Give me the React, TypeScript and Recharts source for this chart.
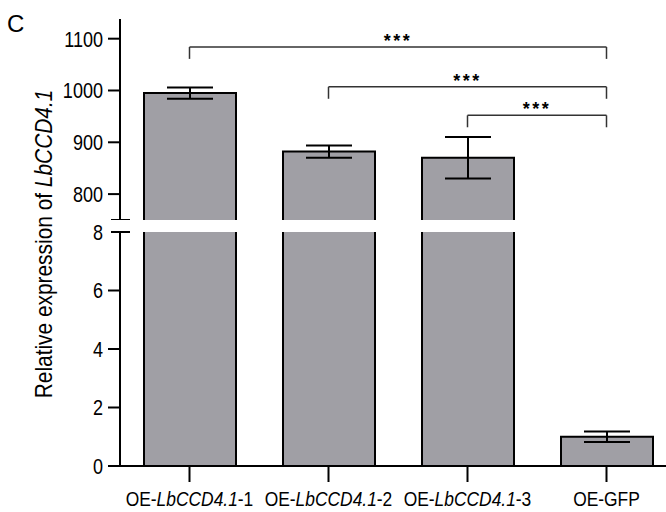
import React from 'react';
import { BarChart, Bar, XAxis, YAxis, ErrorBar, ReferenceLine } from 'recharts';

const categories = ['OE-LbCCD4.1-1', 'OE-LbCCD4.1-2', 'OE-LbCCD4.1-3', 'OE-GFP'];
const expression = [995, 882, 870, 1.0];
const sem = [11, 12, 40, 0.18];
const upperTicks = [750, 800, 900, 1000, 1100];
const lowerTicks = [0, 2, 4, 6, 8];
const breakLow = 8;
const breakHigh = 750;
const brackets = [
  { from: 0, to: 3, y: 1084 },
  { from: 1, to: 3, y: 1007 },
  { from: 2, to: 3, y: 952 },
];
const stars = ['***', '***', '***'];

// no narrow font installed, so squeeze Liberation Sans horizontally
const FONT = '"Liberation Sans", Arial, sans-serif';
const AXIS_X = 120;
const CHART_W = 676;
const BAR_FILL = '#a09fa5';
const bracketDrop = 23;

const upperData = categories.map((name, i) => ({
  name,
  value: expression[i] > breakHigh ? expression[i] : null,
  err: expression[i] > breakHigh ? sem[i] : null,
}));

const lowerData = categories.map((name, i) => ({
  name,
  value: Math.min(expression[i], breakLow),
  broken: expression[i] > breakLow,
  err: expression[i] > breakLow ? null : sem[i],
}));

const UpperBar = (props: any) => {
  const { x, y, width, height } = props;
  if (height == null || isNaN(height)) return null;
  return (
    <g>
      <rect x={x} y={y} width={width} height={height} fill={BAR_FILL} />
      <path
        d={`M${x},${y + height} V${y} H${x + width} V${y + height}`}
        fill="none"
        stroke="#000"
        strokeWidth={2}
      />
    </g>
  );
};

const LowerBar = (props: any) => {
  const { x, y, width, height, payload } = props;
  const d = payload && payload.broken
    ? `M${x},${y} V${y + height} H${x + width} V${y}`
    : `M${x},${y + height} V${y} H${x + width} V${y + height}`;
  return (
    <g>
      <rect x={x} y={y} width={width} height={height} fill={BAR_FILL} />
      <path d={d} fill="none" stroke="#000" strokeWidth={2} />
    </g>
  );
};

const makeYTick = (breakAt: number, showBreakLabel: boolean) => (props: any) => {
  const { y, payload } = props;
  const isBreak = payload.value === breakAt;
  return (
    <g>
      {isBreak ? (
        <line x1={AXIS_X - 9} x2={AXIS_X + 10} y1={y} y2={y} stroke="#000" strokeWidth={2} />
      ) : (
        <line x1={AXIS_X - 12} x2={AXIS_X} y1={y} y2={y} stroke="#000" strokeWidth={2} />
      )}
      {(!isBreak || showBreakLabel) && (
        <text
          transform={`translate(${AXIS_X - 17},${y}) scale(0.82,1)`}
          dy="0.36em"
          textAnchor="end"
          fontSize={22}
          fontFamily={FONT}
          fill="#000"
        >
          {payload.value}
        </text>
      )}
    </g>
  );
};

const XTick = (props: any) => {
  const { x, y, payload } = props;
  const m = String(payload.value).match(/^(OE-)(LbCCD4\.1)(-\d)$/);
  return (
    <text
      transform={`translate(${x},${y + 22}) scale(0.87,1)`}
      textAnchor="middle"
      fontSize={20}
      fontFamily={FONT}
      fill="#000"
    >
      {m ? (
        <>
          <tspan>{m[1]}</tspan>
          <tspan fontStyle="italic">{m[2]}</tspan>
          <tspan>{m[3]}</tspan>
        </>
      ) : (
        payload.value
      )}
    </text>
  );
};

const lineStyle = { stroke: '#333', strokeWidth: 1.5 };

export default function App() {
  return (
    <div style={{ position: 'absolute', left: 0, top: 0, width: 666, height: 512, overflow: 'hidden', background: '#fff' }}>
      <div style={{ position: 'absolute', left: 0, top: 0 }}>
        <BarChart width={CHART_W} height={512} data={lowerData} margin={{ top: 232, right: 0, bottom: 0, left: 0 }}>
          <XAxis
            dataKey="name"
            height={46}
            axisLine={{ stroke: '#000', strokeWidth: 2 }}
            tickLine={{ stroke: '#000', strokeWidth: 2 }}
            tickSize={16}
            tick={<XTick />}
            interval={0}
          />
          <YAxis
            width={AXIS_X}
            domain={[0, breakLow]}
            ticks={lowerTicks}
            allowDataOverflow
            axisLine={{ stroke: '#000', strokeWidth: 2 }}
            tickLine={false}
            tick={makeYTick(breakLow, true)}
            interval={0}
          />
          <Bar dataKey="value" barSize={92} shape={<LowerBar />} isAnimationActive={false}>
            <ErrorBar dataKey="err" width={23} stroke="#000" strokeWidth={2} isAnimationActive={false} />
          </Bar>
        </BarChart>
      </div>
      <div style={{ position: 'absolute', left: 0, top: 0 }}>
        <BarChart width={CHART_W} height={220} data={upperData} margin={{ top: 19, right: 0, bottom: 0, left: 0 }}>
          <XAxis dataKey="name" hide />
          <YAxis
            width={AXIS_X}
            domain={[breakHigh, 1138]}
            ticks={upperTicks}
            allowDataOverflow
            axisLine={{ stroke: '#000', strokeWidth: 2 }}
            tickLine={false}
            tick={makeYTick(breakHigh, false)}
            interval={0}
          />
          <Bar dataKey="value" barSize={92} shape={<UpperBar />} isAnimationActive={false}>
            <ErrorBar dataKey="err" width={23} stroke="#000" strokeWidth={2} isAnimationActive={false} />
          </Bar>
          {brackets.map((b, i) => (
            <React.Fragment key={i}>
              <ReferenceLine
                segment={[{ x: categories[b.from], y: b.y }, { x: categories[b.to], y: b.y }]}
                {...lineStyle}
                label={{
                  value: stars[i],
                  position: 'top',
                  offset: 0,
                  fontSize: 18,
                  fontWeight: 'bold',
                  letterSpacing: 2.5,
                  fontFamily: FONT,
                  fill: '#000',
                }}
              />
              <ReferenceLine
                segment={[{ x: categories[b.from], y: b.y }, { x: categories[b.from], y: b.y - bracketDrop }]}
                {...lineStyle}
              />
              <ReferenceLine
                segment={[{ x: categories[b.to], y: b.y }, { x: categories[b.to], y: b.y - bracketDrop }]}
                {...lineStyle}
              />
            </React.Fragment>
          ))}
        </BarChart>
      </div>
      <svg width={666} height={512} style={{ position: 'absolute', left: 0, top: 0, pointerEvents: 'none' }}>
        <text x={7} y={32} fontSize={24} fontFamily={FONT} fill="#000">C</text>
        <text
          transform="translate(52,244) rotate(-90) scale(0.87,1)"
          textAnchor="middle"
          fontSize={24}
          fontFamily={FONT}
          fill="#000"
        >
          <tspan>Relative expression of </tspan>
          <tspan fontStyle="italic">LbCCD4.1</tspan>
        </text>
      </svg>
    </div>
  );
}
